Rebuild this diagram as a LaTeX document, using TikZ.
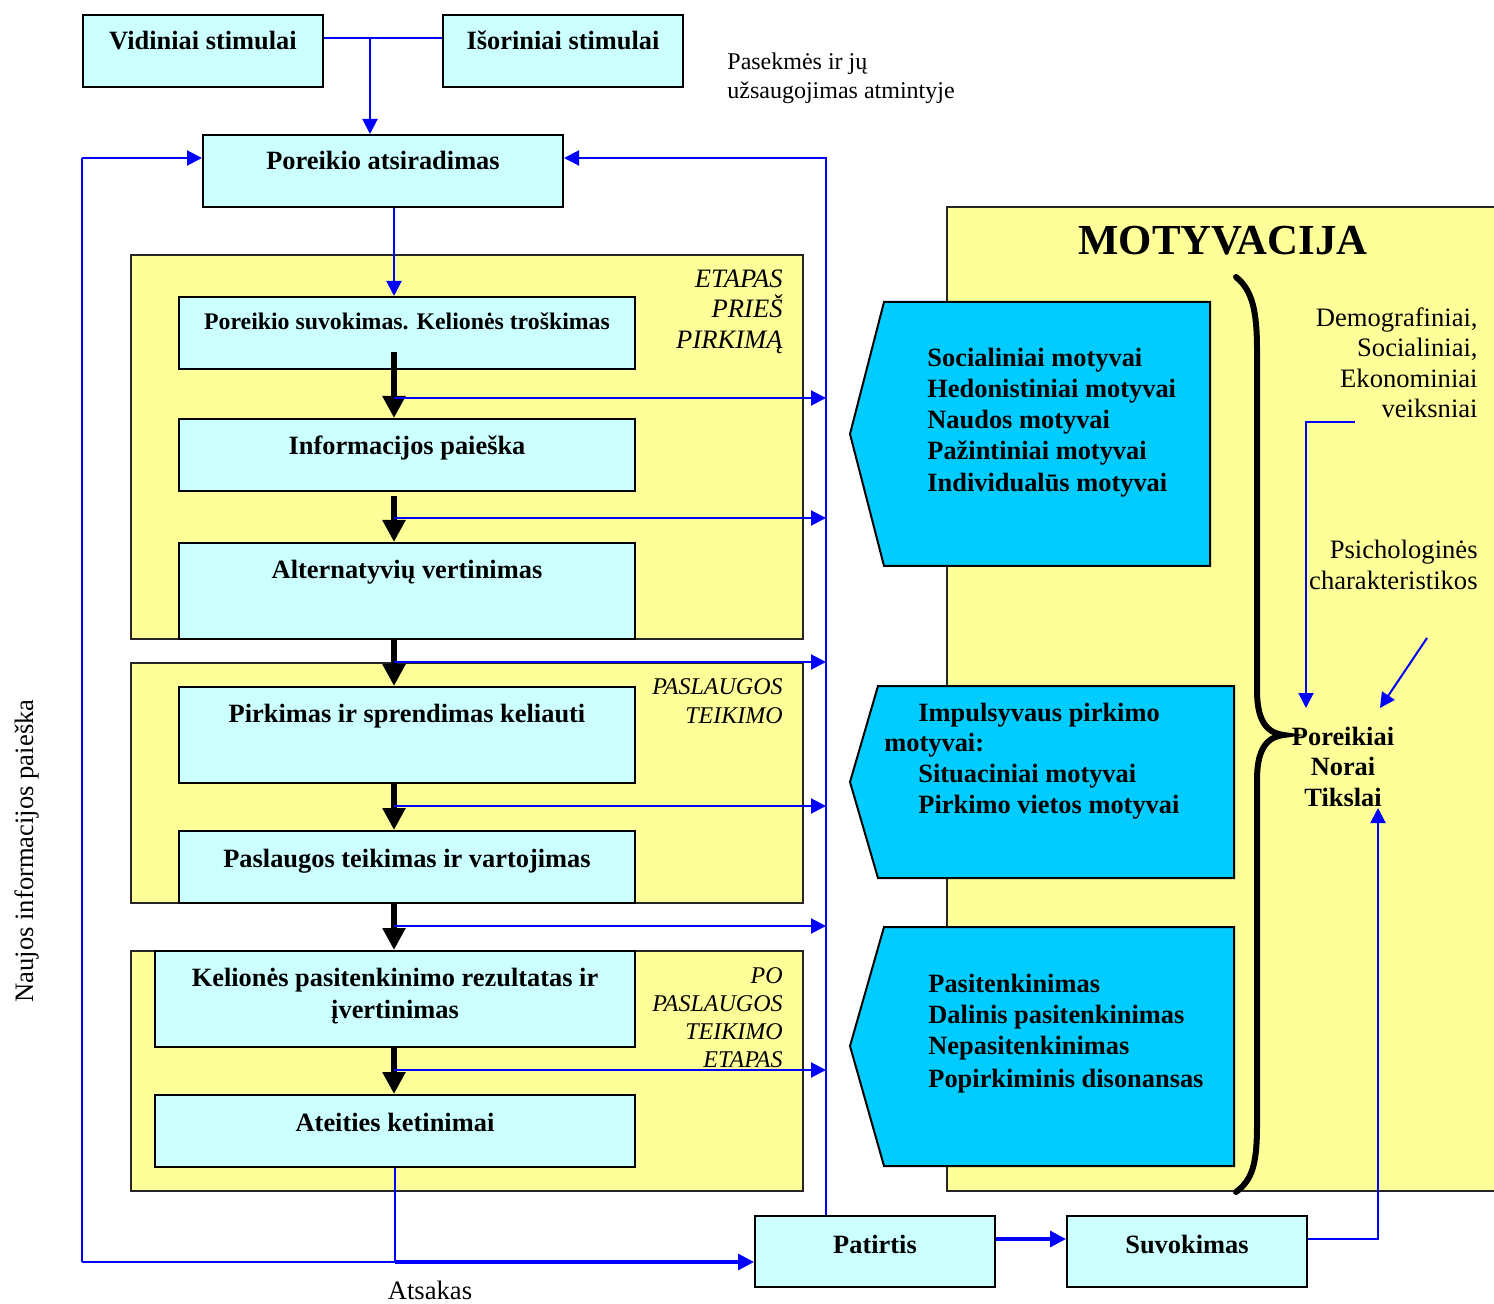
\documentclass[tikz,border=0pt]{standalone}
\usepackage{fontspec}
\setmainfont{Liberation Serif}
\usetikzlibrary{arrows.meta,calc}

\definecolor{cyanbox}{HTML}{CCFFFF}
\definecolor{stagey}{HTML}{FFFF99}
\definecolor{motblue}{HTML}{00CCFF}
\definecolor{flowc}{HTML}{0000FF}

\tikzset{
  box/.style={draw=black, line width=1pt, fill=cyanbox, inner sep=0pt, anchor=north west},
  stage/.style={draw=black!85, line width=1pt, fill=stagey, inner sep=0pt, anchor=north west},
  motif/.style={draw=black, line width=1pt, fill=motblue},
  bt/.style={font=\fontsize{13.2}{15.5}\selectfont\bfseries, inner sep=0pt, anchor=base},
  btl/.style={bt, anchor=base west},
  rtx/.style={font=\fontsize{13.3}{15.5}\selectfont, inner sep=0pt, anchor=base east},
  note/.style={font=\fontsize{12}{14}\selectfont, inner sep=0pt, anchor=base west},
  itx/.style={font=\fontsize{12}{14}\selectfont\itshape, inner sep=0pt, anchor=base east},
  itxl/.style={itx, font=\fontsize{13.3}{15.5}\selectfont\itshape},
  flow/.style={draw=flowc, line width=1pt},
  flowarr/.style={flow, -{Triangle[width=7.5pt,length=7.5pt]}},
  flowthick/.style={draw=flowc, line width=1.6pt, -{Triangle[width=8pt,length=8pt]}},
  down/.style={line width=3.2pt, -{Triangle[width=11pt,length=11pt]}},
}

\begin{document}
\begin{tikzpicture}[x=0.5pt,y=-0.5pt]
\useasboundingbox (0,0) rectangle (1494,1304);
\clip (0,0) rectangle (1494,1304);

% stage panels and the motivation panel
\node[stage, minimum width=336pt, minimum height=192pt] (st1) at (130,254) {};
\node[stage, minimum width=336pt, minimum height=120pt] (st2) at (130,662) {};
\node[stage, minimum width=336pt, minimum height=120pt] (st3) at (130,950) {};
\node[stage, minimum width=280pt, minimum height=492pt] (mot) at (946,206) {};

% motive groups
\draw[motif] (884,302) -- (1210,302) -- (1210,566) -- (884,566) -- (850,434) -- cycle;
\draw[motif] (878,686) -- (1234,686) -- (1234,878) -- (878,878) -- (850,782) -- cycle;
\draw[motif] (884,927) -- (1234,927) -- (1234,1166) -- (884,1166) -- (850,1046) -- cycle;

% curly brace
\draw[line width=3pt, line cap=round] (1236,277) .. controls (1252,290) and (1257,310) .. (1257,350)
  -- (1257,690) .. controls (1257,720) and (1266,733) .. (1284,735)
  .. controls (1266,737) and (1257,750) .. (1257,780)
  -- (1257,1125) .. controls (1257,1165) and (1252,1180) .. (1236,1192);

% process boxes
\node[box, minimum width=120pt, minimum height=36pt] (vid) at (82,14) {};
\node[box, minimum width=120pt, minimum height=36pt] (isor) at (442,14) {};
\node[box, minimum width=180pt, minimum height=36pt] (por) at (202,134) {};
\node[box, minimum width=228pt, minimum height=36pt] (suv) at (178,296) {};
\node[box, minimum width=228pt, minimum height=36pt] (inf) at (178,418) {};
\node[box, minimum width=228pt, minimum height=48pt] (alt) at (178,542) {};
\node[box, minimum width=228pt, minimum height=48pt] (pir) at (178,686) {};
\node[box, minimum width=228pt, minimum height=36pt] (pas) at (178,830) {};
\node[box, minimum width=240pt, minimum height=48pt] (kel) at (154,950) {};
\node[box, minimum width=240pt, minimum height=36pt] (ate) at (154,1094) {};
\node[box, minimum width=120pt, minimum height=35.5pt] (pat) at (754,1215) {};
\node[box, minimum width=120pt, minimum height=35.5pt] (suk) at (1066,1215) {};

% box texts
\node[bt] (vidt) at ($(vid.north)+(0,36)$) {Vidiniai stimulai};
\node[bt] (isort) at ($(isor.north)+(0,36)$) {Išoriniai stimulai};
\node[bt] (port) at ($(por.north)+(0,36)$) {Poreikio atsiradimas};
\node[bt, font=\fontsize{11.9}{14}\selectfont\bfseries] (suvt) at ($(suv.north)+(0,34)$) {Poreikio suvokimas. Kelionės troškimas};
\node[bt] (inft) at ($(inf.north)+(0,37)$) {Informacijos paieška};
\node[bt] (altt) at ($(alt.north)+(0,37)$) {Alternatyvių vertinimas};
\node[bt] (pirt) at ($(pir.north)+(0,36)$) {Pirkimas ir sprendimas keliauti};
\node[bt] (past) at ($(pas.north)+(0,37)$) {Paslaugos teikimas ir vartojimas};
\node[bt] (kelt1) at ($(kel.north)+(0,36)$) {Kelionės pasitenkinimo rezultatas ir};
\node[bt] (kelt2) at ($(kel.north)+(0,68)$) {įvertinimas};
\node[bt] (atet) at ($(ate.north)+(0,37)$) {Ateities ketinimai};
\node[bt] (patt) at ($(pat.north)+(0,38)$) {Patirtis};
\node[bt] (sukt) at ($(suk.north)+(0,38)$) {Suvokimas};

% stage labels
\node[itxl] (e1a) at (783,288) {ETAPAS};
\node[itxl] (e1b) at (783,318) {PRIEŠ};
\node[itxl] (e1c) at (783,349) {PIRKIMĄ};
\node[itx] (e2a) at (783,694) {PASLAUGOS};
\node[itx] (e2b) at (783,723) {TEIKIMO};
\node[itx] (e3a) at (783,983) {PO};
\node[itx] (e3b) at (783,1011) {PASLAUGOS};
\node[itx] (e3c) at (783,1039) {TEIKIMO};
\node[itx] (e3d) at (783,1067) {ETAPAS};

% free notes
\node[note] (mem1) at (727,70) {Pasekmės ir jų};
\node[note] (mem2) at (727,99) {užsaugojimas atmintyje};
\node[font=\fontsize{13.3}{15.5}\selectfont, inner sep=0pt, anchor=base] (ats) at (430,1299) {Atsakas};
\node[font=\fontsize{13.3}{15.5}\selectfont, inner sep=0pt, anchor=base, rotate=90] (nau) at (33,851) {Naujos informacijos paieška};

% motivation panel texts
\node[font=\fontsize{21.4}{24}\selectfont\bfseries, inner sep=0pt, anchor=base] (mott) at (1223,255) {MOTYVACIJA};
\node[btl] (m1a) at (927,367) {Socialiniai motyvai};
\node[btl] (m1b) at (927,398) {Hedonistiniai motyvai};
\node[btl] (m1c) at (927,429) {Naudos motyvai};
\node[btl] (m1d) at (927,460) {Pažintiniai motyvai};
\node[btl] (m1e) at (927,492) {Individualūs motyvai};
\node[btl] (m2a) at (918,721) {Impulsyvaus pirkimo};
\node[btl] (m2b) at (884,751) {motyvai:};
\node[btl] (m2c) at (918,782) {Situaciniai motyvai};
\node[btl] (m2d) at (918,813) {Pirkimo vietos motyvai};
\node[btl] (m3a) at (928,992) {Pasitenkinimas};
\node[btl] (m3b) at (928,1023) {Dalinis pasitenkinimas};
\node[btl] (m3c) at (928,1054) {Nepasitenkinimas};
\node[btl] (m3d) at (928,1087) {Popirkiminis disonansas};
\node[bt] (pa) at (1343,745) {Poreikiai};
\node[bt] (pb) at (1343,775) {Norai};
\node[bt] (pc) at (1343,806) {Tikslai};
\node[rtx] (f1) at (1478,327) {Demografiniai,};
\node[rtx] (f2) at (1478,357) {Socialiniai,};
\node[rtx] (f3) at (1478,388) {Ekonominiai};
\node[rtx] (f4) at (1478,418) {veiksniai};
\node[rtx] (g1) at (1478,559) {Psichologinės};
\node[rtx] (g2) at (1478,590) {charakteristikos};

% main process flow
\coordinate (ax) at (394,0);
\draw[down] ($(suv.south -| ax)+(0,-18)$) -- (inf.north -| ax);
\draw[down] ($(inf.south -| ax)+(0,4)$) -- (alt.north -| ax);
\draw[down] (alt.south -| ax) -- (pir.north -| ax);
\draw[down] (pir.south -| ax) -- (pas.north -| ax);
\draw[down] (pas.south -| ax) -- (kel.north -| ax);
\draw[down] (kel.south -| ax) -- (ate.north -| ax);

% stimuli into need
\coordinate (tj) at (370,38);
\draw[flow] (vid.east |- tj) -- (isor.west |- tj);
\draw[flowarr] (tj) -- (tj |- por.north);
\draw[flowarr] (por.south -| ax) -- (suv.north -| ax);

% feedback to experience line
\coordinate (rx) at (826,158);
\foreach \yy [count=\i] in {398,518,662,806,926,1070}{
  \coordinate (h\i) at (394,\yy);
  \draw[flowarr] (h\i) -- (h\i -| rx);
}
\draw[flowarr] (pat.north -| rx) -- (rx) -- (rx -| por.east);

% new information search loop
\coordinate (lb) at (82,1262);
\coordinate (lt) at (82,158);
\draw[flow] (lb) -- (lt);
\draw[flowarr] (lt) -- (lt -| por.west);
\draw[flow] (lb) -- (lb -| ate.south);
\draw[flow] (ate.south) -- (ate.south |- lb);
\draw[flowthick] (ate.south |- lb) -- (lb -| pat.west);

% experience, perception, goals
\coordinate (py) at (0,1239);
\draw[flowthick] (pat.east |- py) -- (suk.west |- py);
\coordinate (tk) at (1378,808);
\draw[flowarr] (suk.east |- py) -| (tk);
\coordinate (dg) at (1355,422);
\coordinate (pn) at (1306,708);
\draw[flowarr] (dg) -| (pn);
\coordinate (ps) at (1427,638);
\coordinate (pn2) at (1380,708);
\draw[flowarr] (ps) -- (pn2);
\end{tikzpicture}
\end{document}
